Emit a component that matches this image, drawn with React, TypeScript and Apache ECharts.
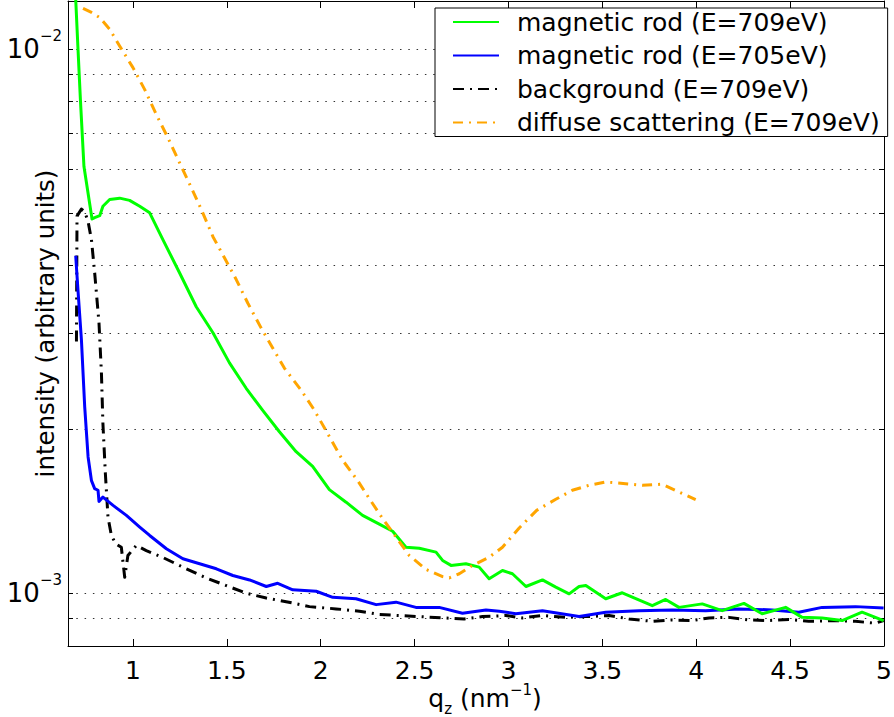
import React, { useEffect, useRef } from 'react';
import * as echarts from 'echarts';

const FONT = '"DejaVu Sans", "Liberation Sans", sans-serif';

const seriesNames = [
  'magnetic rod (E=709eV)',
  'magnetic rod (E=705eV)',
  'background (E=709eV)',
  'diffuse scattering (E=709eV)',
];

const xTickValues = [1, 1.5, 2, 2.5, 3, 3.5, 4, 4.5, 5];
const yLabelValues = [1e-3, 1e-2];
const yGridValues = [9e-4, 1e-3, 2e-3, 3e-3, 4e-3, 5e-3, 6e-3, 7e-3, 8e-3, 9e-3, 1e-2];

// magnetic rod (E=709eV)
const qGreen = [0.690, 0.695, 0.707, 0.720, 0.739, 0.782, 0.796, 0.823, 0.840, 0.876, 0.929, 0.982, 1.036, 1.089, 1.160, 1.248, 1.337, 1.426, 1.514, 1.603, 1.690, 1.780, 1.869, 1.957, 2.046, 2.135, 2.223, 2.312, 2.383, 2.454, 2.525, 2.614, 2.649, 2.694, 2.773, 2.844, 2.897, 2.968, 3.021, 3.093, 3.181, 3.252, 3.323, 3.376, 3.412, 3.518, 3.606, 3.766, 3.837, 3.908, 4.032, 4.138, 4.254, 4.351, 4.476, 4.564, 4.670, 4.777, 4.883, 4.998];
const iGreen = [13.4e-3, 12.35e-3, 10.04e-3, 8.08e-3, 6.08e-3, 4.87e-3, 4.90e-3, 4.94e-3, 5.14e-3, 5.29e-3, 5.32e-3, 5.27e-3, 5.14e-3, 5.00e-3, 4.46e-3, 3.88e-3, 3.36e-3, 3.01e-3, 2.65e-3, 2.38e-3, 2.17e-3, 1.98e-3, 1.82e-3, 1.71e-3, 1.55e-3, 1.47e-3, 1.39e-3, 1.34e-3, 1.30e-3, 1.215e-3, 1.21e-3, 1.19e-3, 1.149e-3, 1.125e-3, 1.133e-3, 1.117e-3, 1.063e-3, 1.101e-3, 1.086e-3, 1.029e-3, 1.058e-3, 1.026e-3, 0.9975e-3, 1.029e-3, 1.033e-3, 0.977e-3, 1.002e-3, 0.949e-3, 0.974e-3, 0.942e-3, 0.956e-3, 0.929e-3, 0.958e-3, 0.917e-3, 0.942e-3, 0.903e-3, 0.901e-3, 0.891e-3, 0.923e-3, 0.891e-3];

// magnetic rod (E=705eV)
const qBlue = [0.695, 0.707, 0.7255, 0.743, 0.761, 0.779, 0.796, 0.814, 0.819, 0.840, 0.894, 0.965, 1.036, 1.089, 1.178, 1.266, 1.355, 1.444, 1.532, 1.621, 1.710, 1.771, 1.851, 1.976, 2.064, 2.188, 2.295, 2.401, 2.507, 2.631, 2.755, 2.880, 2.951, 3.039, 3.181, 3.376, 3.518, 3.695, 3.872, 4.050, 4.227, 4.404, 4.546, 4.670, 4.848, 4.998];
const iBlue = [4.17e-3, 3.61e-3, 2.92e-3, 2.20e-3, 1.78e-3, 1.61e-3, 1.557e-3, 1.546e-3, 1.475e-3, 1.502e-3, 1.45e-3, 1.39e-3, 1.323e-3, 1.277e-3, 1.207e-3, 1.157e-3, 1.133e-3, 1.109e-3, 1.078e-3, 1.058e-3, 1.029e-3, 1.043e-3, 1.0145e-3, 1.0085e-3, 0.983e-3, 0.977e-3, 0.953e-3, 0.963e-3, 0.942e-3, 0.942e-3, 0.919e-3, 0.932e-3, 0.927e-3, 0.917e-3, 0.929e-3, 0.906e-3, 0.923e-3, 0.929e-3, 0.932e-3, 0.929e-3, 0.936e-3, 0.932e-3, 0.923e-3, 0.942e-3, 0.945e-3, 0.940e-3];

// background (E=709eV)
const qBlack = [0.699, 0.702, 0.7255, 0.743, 0.761, 0.779, 0.796, 0.819, 0.832, 0.840, 0.853, 0.867, 0.885, 0.908, 0.938, 0.956, 0.973, 1.018, 1.071, 1.160, 1.284, 1.390, 1.497, 1.603, 1.710, 1.816, 1.940, 2.082, 2.206, 2.312, 2.419, 2.525, 2.649, 2.764, 2.862, 2.986, 3.074, 3.181, 3.305, 3.412, 3.536, 3.642, 3.766, 3.864, 3.979, 4.068, 4.174, 4.280, 4.387, 4.493, 4.599, 4.723, 4.848, 4.954, 4.998];
const iBlack = [2.90e-3, 4.93e-3, 5.08e-3, 5.02e-3, 4.82e-3, 4.46e-3, 3.88e-3, 3.14e-3, 2.54e-3, 2.05e-3, 1.66e-3, 1.38e-3, 1.277e-3, 1.233e-3, 1.215e-3, 1.070e-3, 1.173e-3, 1.224e-3, 1.198e-3, 1.163e-3, 1.109e-3, 1.067e-3, 1.033e-3, 1.000e-3, 0.980e-3, 0.965e-3, 0.945e-3, 0.936e-3, 0.927e-3, 0.914e-3, 0.910e-3, 0.906e-3, 0.901e-3, 0.897e-3, 0.906e-3, 0.910e-3, 0.901e-3, 0.910e-3, 0.903e-3, 0.906e-3, 0.910e-3, 0.897e-3, 0.888e-3, 0.893e-3, 0.891e-3, 0.901e-3, 0.903e-3, 0.893e-3, 0.891e-3, 0.895e-3, 0.888e-3, 0.891e-3, 0.888e-3, 0.881e-3, 0.891e-3];

// diffuse scattering (E=709eV)
const qOrange = [0.734, 0.779, 0.823, 0.876, 0.929, 1.000, 1.062, 1.124, 1.186, 1.248, 1.311, 1.364, 1.426, 1.488, 1.550, 1.612, 1.683, 1.745, 1.807, 1.896, 1.966, 2.046, 2.117, 2.197, 2.259, 2.330, 2.401, 2.472, 2.561, 2.649, 2.685, 2.738, 2.809, 2.897, 2.968, 3.057, 3.150, 3.252, 3.340, 3.429, 3.518, 3.624, 3.713, 3.819, 3.908, 3.997];
const iOrange = [11.87e-3, 11.67e-3, 11.42e-3, 10.87e-3, 10.13e-3, 9.24e-3, 8.43e-3, 7.58e-3, 6.87e-3, 6.18e-3, 5.56e-3, 5.07e-3, 4.52e-3, 4.13e-3, 3.77e-3, 3.41e-3, 3.07e-3, 2.82e-3, 2.59e-3, 2.36e-3, 2.17e-3, 1.94e-3, 1.755e-3, 1.61e-3, 1.492e-3, 1.371e-3, 1.268e-3, 1.173e-3, 1.106e-3, 1.073e-3, 1.067e-3, 1.086e-3, 1.125e-3, 1.165e-3, 1.215e-3, 1.318e-3, 1.42e-3, 1.488e-3, 1.546e-3, 1.579e-3, 1.601e-3, 1.590e-3, 1.579e-3, 1.586e-3, 1.535e-3, 1.486e-3];

const X_MIN = 0.654;
const X_MAX = 5;
const Y_MIN = 8e-4;
const Y_MAX = 0.01225;

const pairs = (q: number[], v: number[]) => q.map((x, i) => [x, v[i]]);

const axisLineStyle = { show: true, lineStyle: { color: '#000', width: 1 } };

function buildOption(): any {
  const lineSeries = (name: string, data: number[][], color: string, type: any, width: number, z: number) => ({
    type: 'line',
    name,
    data,
    xAxisIndex: 0,
    yAxisIndex: 0,
    showSymbol: false,
    symbol: 'none',
    clip: true,
    silent: true,
    z,
    itemStyle: { color },
    lineStyle: { color, width, type, cap: 'butt', join: 'round' },
  });

  return {
    animation: false,
    backgroundColor: '#fff',
    textStyle: { fontFamily: FONT },
    grid: {
      left: 68,
      right: 10,
      top: 1,
      bottom: 71,
      containLabel: false,
      outerBoundsMode: 'none',
    },
    legend: {
      orient: 'vertical',
      left: 435,
      top: 8,
      itemWidth: 46,
      itemHeight: 14,
      itemGap: 5.5,
      padding: [0, 8, 0, 17],
      backgroundColor: '#fff',
      borderColor: '#000',
      borderWidth: 1,
      borderRadius: 0,
      selectedMode: false,
      data: seriesNames,
      itemStyle: { opacity: 0, borderWidth: 0 },
      textStyle: {
        fontSize: 25,
        fontFamily: FONT,
        color: '#000',
        lineHeight: 28,
        padding: [0, 0, 0, 13],
      },
    },
    xAxis: [
      {
        type: 'value',
        position: 'bottom',
        min: X_MIN,
        max: X_MAX,
        axisLine: axisLineStyle,
        axisTick: { show: true, inside: true, length: 7, customValues: xTickValues, lineStyle: { color: '#000' } },
        axisLabel: {
          show: true,
          customValues: xTickValues,
          formatter: (v: number) => String(v),
          fontSize: 25,
          lineHeight: 18,
          fontFamily: FONT,
          color: '#000',
          margin: 15,
        },
        splitLine: { show: false },
        name: '{n|q}{sub|z}{n| (nm}{sup|−1}{n|)}',
        nameLocation: 'middle',
        nameGap: 35,
        nameMoveOverlap: false,
        nameTextStyle: {
          fontSize: 25,
          fontFamily: FONT,
          color: '#000',
          padding: [0, 0, 0, 18],
          rich: {
            n: { fontSize: 25, fontFamily: FONT, color: '#000' },
            sub: { fontSize: 15, fontFamily: FONT, color: '#000', padding: [20, 0, 0, 0] },
            sup: { fontSize: 15, fontFamily: FONT, color: '#000', padding: [0, 0, 18, 0] },
          },
        },
      },
      {
        type: 'value',
        position: 'top',
        min: X_MIN,
        max: X_MAX,
        axisLine: axisLineStyle,
        axisTick: { show: true, inside: true, length: 7, customValues: xTickValues, lineStyle: { color: '#000' } },
        axisLabel: { show: false },
        splitLine: { show: false },
      },
    ],
    yAxis: [
      {
        type: 'log',
        logBase: 10,
        position: 'left',
        min: Y_MIN,
        max: Y_MAX,
        axisLine: axisLineStyle,
        axisTick: { show: true, inside: true, length: 5, customValues: yGridValues, lineStyle: { color: '#000' } },
        axisLabel: {
          show: true,
          customValues: yLabelValues,
          margin: 6,
          formatter: (v: number) => `{b|10}{e|−${Math.round(-Math.log10(v))}}`,
          rich: {
            b: { fontSize: 26, fontFamily: FONT, color: '#000' },
            e: { fontSize: 15, fontFamily: FONT, color: '#000', padding: [0, 0, 26, 0] },
          },
        },
        splitLine: { show: true, lineStyle: { color: '#333', width: 1, type: [1.5, 6.8] } },
        name: 'intensity (arbitrary units)',
        nameLocation: 'middle',
        nameGap: 10,
        nameMoveOverlap: false,
        nameTextStyle: { fontSize: 24.5, fontFamily: FONT, color: '#000' },
      },
      {
        type: 'log',
        logBase: 10,
        position: 'right',
        min: Y_MIN,
        max: Y_MAX,
        axisLine: axisLineStyle,
        axisTick: { show: true, inside: true, length: 5, customValues: yGridValues, lineStyle: { color: '#000' } },
        axisLabel: { show: false },
        splitLine: { show: false },
      },
    ],
    series: [
      lineSeries(seriesNames[0], pairs(qGreen, iGreen), '#00ff00', 'solid', 3, 4),
      lineSeries(seriesNames[1], pairs(qBlue, iBlue), '#0000ff', 'solid', 3, 3),
      lineSeries(seriesNames[2], pairs(qBlack, iBlack), '#000000', [11, 6, 2, 6], 3, 2),
      lineSeries(seriesNames[3], pairs(qOrange, iOrange), '#ffa500', [10, 6, 2, 6], 3, 5),
    ],
  };
}

export default function App() {
  const ref = useRef<HTMLDivElement>(null);
  useEffect(() => {
    if (!ref.current) return;
    const chart = echarts.init(ref.current, null, { renderer: 'svg' });
    chart.setOption(buildOption());
    return () => {
      chart.dispose();
    };
  }, []);
  return (
    <div
      ref={ref}
      style={{ position: 'fixed', left: 0, top: 0, width: 894, height: 717, background: '#fff' }}
    />
  );
}
